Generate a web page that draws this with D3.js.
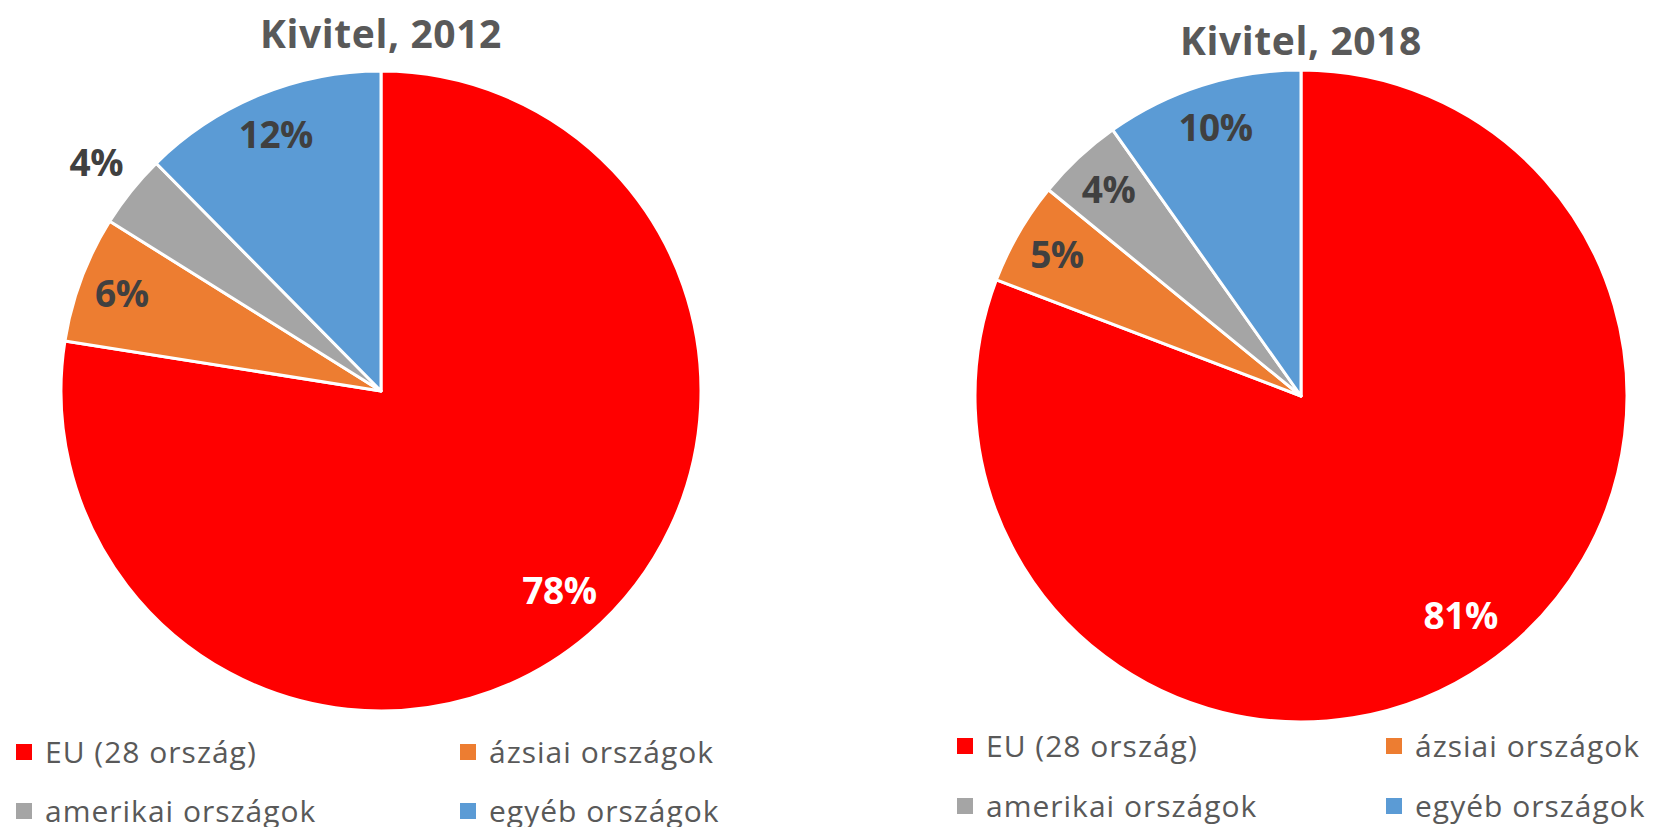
<!DOCTYPE html>
<html>
<head>
<meta charset="utf-8">
<script src="https://cdn.jsdelivr.net/npm/d3@7"></script>
<style>
  body { margin: 0; background: #fff; }
  svg text { font-family: "Open Sans", "Noto Sans", sans-serif; }
  .title { font-weight: 700; font-size: 39px; fill: #595959; letter-spacing: 0.6px; }
  .label { font-weight: 700; font-size: 37px; fill: #404040; letter-spacing: -0.5px; }
  .legend text { font-size: 30px; fill: #595959; letter-spacing: 1px; }
</style>
</head>
<body>
<div id="chart"></div>
<script>
// chart data
const categories = [ "EU (28 ország)", "ázsiai országok", "amerikai országok", "egyéb országok" ];
const years = [ "2012", "2018" ];
const share2012 = [ 77.5, 6.4, 3.7, 12.4 ];
const share2018 = [ 80.8, 5.1, 4.3, 9.8 ];

const colors = [ "#ff0000", "#ed7d31", "#a5a5a5", "#5b9bd5" ];

let options = {
  width: 1654,
  height: 827,
  pies: [
    { cx: 381, cy: 391, r: 320, titleY: 48, legendX: [ 16, 460 ], legendY: [ 752, 811 ] },
    { cx: 1301, cy: 396, r: 326, titleY: 55, legendX: [ 957, 1386 ], legendY: [ 746, 806 ] }
  ]
};

const series = [ share2012, share2018 ];

let svg = d3.select( "#chart" )
            .append( "svg" )
            .attr( "width", options.width )
            .attr( "height", options.height );

let color = d3.scaleOrdinal()
              .domain( categories )
              .range( colors );

let pie = d3.pie()
            .sort( null )
            .value( d => d.value );

series.forEach( ( values, k ) => {
  let p = options.pies[k];
  let data = categories.map( ( c, i ) => ({ name: c, value: values[i] }) );
  let arcs = pie( data );

  let g = svg.append( "g" )
             .attr( "transform", `translate(${p.cx},${p.cy})` );

  let arc = d3.arc()
              .innerRadius( 0 )
              .outerRadius( p.r );

  g.selectAll( "path" )
   .data( arcs )
   .enter()
   .append( "path" )
   .attr( "d", arc )
   .attr( "fill", d => color( d.data.name ) )
   .attr( "stroke", "#fff" )
   .attr( "stroke-width", 3 )
   .attr( "stroke-linejoin", "round" );

  // small slices get their label outside the pie
  let labelRadius = d => {
    if ( d.data.value < 4 ) return p.r * 1.14;
    if ( d.data.value > 50 ) return p.r * 0.82;
    return p.r * 0.865;
  };

  g.selectAll( "text.label" )
   .data( arcs )
   .enter()
   .append( "text" )
   .attr( "class", "label" )
   .attr( "transform", d => {
     let lr = labelRadius( d );
     let c = d3.arc().innerRadius( lr ).outerRadius( lr ).centroid( d );
     // big slice label sits a little clockwise of the middle
     if ( d.data.value > 50 ) c[0] += 8;
     return `translate(${c[0]},${c[1]})`;
   })
   .attr( "text-anchor", "middle" )
   .attr( "dy", "0.36em" )
   .style( "fill", d => d.data.value > 50 ? "#fff" : null )
   .text( d => Math.round( d.data.value ) + "%" );

  svg.append( "text" )
     .attr( "class", "title" )
     .attr( "x", p.cx )
     .attr( "y", p.titleY )
     .attr( "text-anchor", "middle" )
     .text( "Kivitel, " + years[k] );

  // legend, two columns
  let legend = svg.append( "g" )
                  .attr( "class", "legend" );

  let items = legend.selectAll( "g" )
                    .data( categories )
                    .enter()
                    .append( "g" )
                    .attr( "transform", ( d, i ) => `translate(${p.legendX[i % 2]},${p.legendY[Math.floor( i / 2 )]})` );

  items.append( "rect" )
       .attr( "x", 0 )
       .attr( "y", -8 )
       .attr( "width", 16 )
       .attr( "height", 16 )
       .attr( "fill", d => color( d ) );

  items.append( "text" )
       .attr( "x", 29 )
       .attr( "dy", "0.35em" )
       .text( d => d );
});
</script>
</body>
</html>
